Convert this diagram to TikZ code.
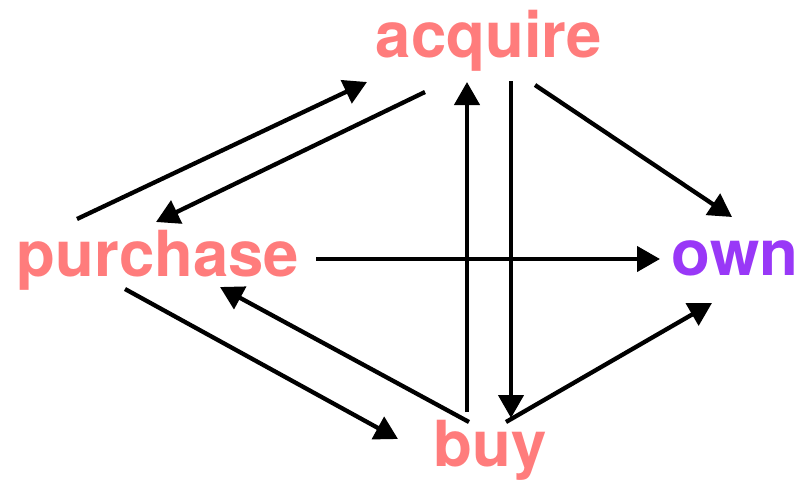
\documentclass[tikz,border=0pt]{standalone}
\usepackage{fontspec}
\setmainfont{TeX Gyre Heros}
\usetikzlibrary{arrows.meta}
\definecolor{pinkw}{RGB}{255,124,124}
\definecolor{purpw}{RGB}{153,56,247}
\tikzset{
  word/.style={font=\fontsize{63.5}{63.5}\selectfont\bfseries, inner sep=0pt, anchor=base, text=pinkw},
  conn/.style={line width=4.3pt, -{Triangle[length=23pt,width=25pt]}}
}
\begin{document}
\begin{tikzpicture}[x=1pt,y=-1pt]
\useasboundingbox (0,0) rectangle (808,479);
\node[word] (acq) at (489,57) {acquire};
\node[word] (pur) at (158,276) {purchase};
\node[word, text=purpw] (own) at (735,275) {own};
\node[word] (buy) at (490,466) {buy};

\draw[conn] ([shift={(-81,-57)}]pur.base) -- ([shift={(-122,25)}]acq.base);
\draw[conn] ([shift={(-64,35)}]acq.base) -- ([shift={(-2,-54)}]pur.base);
\draw[conn] ([shift={(46,28)}]acq.base) -- ([shift={(-3,-58)}]own.base);
\draw[conn] ([shift={(158,-17)}]pur.base) -- ([shift={(-75,-16)}]own.base);
\draw[conn] ([shift={(22,24)}]acq.base) -- ([shift={(21,-48)}]buy.base);
\draw[conn] ([shift={(-23,-54)}]buy.base) -- ([shift={(-22,25)}]acq.base);
\draw[conn] ([shift={(-21,-44)}]buy.base) -- ([shift={(62,11)}]pur.base);
\draw[conn] ([shift={(-33,13)}]pur.base) -- ([shift={(-92,-27)}]buy.base);
\draw[conn] ([shift={(16,-44)}]buy.base) -- ([shift={(-23,28)}]own.base);
\end{tikzpicture}
\end{document}
